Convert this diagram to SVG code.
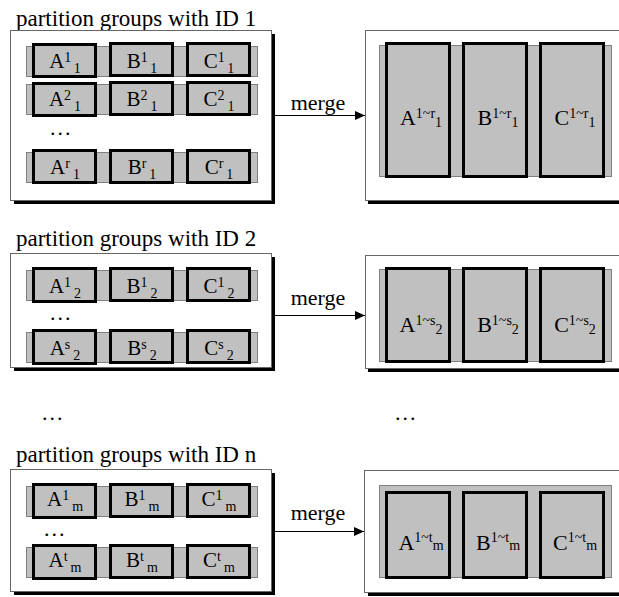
<svg xmlns="http://www.w3.org/2000/svg" width="619" height="597" viewBox="0 0 619 597" font-family="'Liberation Serif', 'Times New Roman', serif">
<defs>
<style>
text{font-family:'Liberation Serif','Times New Roman',serif;fill:#000}
.title{font-size:23px}
.merge{font-size:22px;text-anchor:middle}
.dots{font-size:22px;letter-spacing:2px}
.lbl{font-size:21px;text-anchor:middle}
.rl{font-size:22px;text-anchor:middle}
.s{font-size:14px}
.box{fill:#fff;stroke:#666;stroke-width:1}
.shadow{fill:#000}
.bar{fill:#c0c0c0;stroke:#808080;stroke-width:1}
.cell{fill:#c0c0c0;stroke:#000;stroke-width:3}
.conn{stroke:#000;stroke-width:1;fill:none}
</style>
<marker id="arr" markerWidth="10" markerHeight="10" refX="10" refY="5" orient="auto" markerUnits="userSpaceOnUse">
<path d="M0,0.5 L10,5 L0,9.5 Z" fill="#000"/>
</marker>
</defs>

<!-- Group 1 -->
<g id="title1"><text class="title" x="16" y="26">partition groups with ID 1</text></g>
<g id="left1">
<rect class="shadow" x="14" y="34" width="261" height="170"/>
<rect class="box" x="10.5" y="30.5" width="261" height="170"/>
<rect class="bar" x="26.5" y="46.5" width="231" height="30"/>
<rect class="cell" x="33.5" y="44.5" width="62" height="32"/>
<rect class="cell" x="110.5" y="43.5" width="62" height="32"/>
<rect class="cell" x="187.5" y="43.5" width="62" height="32"/>
<text class="lbl" x="65" y="68">A<tspan class="s" dy="-6">1</tspan><tspan class="s" dx="3" dy="11">1</tspan></text>
<text class="lbl" x="142" y="68">B<tspan class="s" dy="-6">1</tspan><tspan class="s" dx="3" dy="11">1</tspan></text>
<text class="lbl" x="219" y="68">C<tspan class="s" dy="-6">1</tspan><tspan class="s" dx="3" dy="11">1</tspan></text>
<rect class="bar" x="26.5" y="84.5" width="231" height="30"/>
<rect class="cell" x="33.5" y="83.5" width="62" height="32"/>
<rect class="cell" x="110.5" y="82.5" width="62" height="32"/>
<rect class="cell" x="187.5" y="82.5" width="62" height="32"/>
<text class="lbl" x="65" y="106">A<tspan class="s" dy="-6">2</tspan><tspan class="s" dx="3" dy="11">1</tspan></text>
<text class="lbl" x="142" y="106">B<tspan class="s" dy="-6">2</tspan><tspan class="s" dx="3" dy="11">1</tspan></text>
<text class="lbl" x="219" y="106">C<tspan class="s" dy="-6">2</tspan><tspan class="s" dx="3" dy="11">1</tspan></text>
<text class="dots" x="50" y="135">...</text>
<rect class="bar" x="26.5" y="152.5" width="231" height="30"/>
<rect class="cell" x="33.5" y="150.5" width="62" height="32"/>
<rect class="cell" x="110.5" y="150.5" width="62" height="32"/>
<rect class="cell" x="187.5" y="150.5" width="62" height="32"/>
<text class="lbl" x="65" y="174">A<tspan class="s" dy="-6">r</tspan><tspan class="s" dx="3" dy="11">1</tspan></text>
<text class="lbl" x="142" y="174">B<tspan class="s" dy="-6">r</tspan><tspan class="s" dx="3" dy="11">1</tspan></text>
<text class="lbl" x="219" y="174">C<tspan class="s" dy="-6">r</tspan><tspan class="s" dx="3" dy="11">1</tspan></text>
</g>
<g id="right1">
<rect class="shadow" x="368" y="34" width="270" height="170"/>
<rect class="box" x="365.5" y="30.5" width="270" height="170"/>
<rect class="bar" x="379.5" y="45.5" width="232" height="131"/>
<rect class="cell" x="386.5" y="43.5" width="63" height="133"/>
<rect class="cell" x="463.5" y="43.5" width="63" height="133"/>
<rect class="cell" x="540.5" y="43.5" width="63" height="133"/>
<text class="rl" x="421" y="125">A<tspan class="s" dy="-7">1~r</tspan><tspan class="s" dy="9">1</tspan></text>
<text class="rl" x="498" y="125">B<tspan class="s" dy="-7">1~r</tspan><tspan class="s" dy="9">1</tspan></text>
<text class="rl" x="575" y="125">C<tspan class="s" dy="-7">1~r</tspan><tspan class="s" dy="9">1</tspan></text>
</g>

<!-- Group 2 -->
<g id="title2"><text class="title" x="16" y="246">partition groups with ID 2</text></g>
<g id="left2">
<rect class="shadow" x="14" y="257" width="261" height="114"/>
<rect class="box" x="10.5" y="253.5" width="261" height="114"/>
<rect class="bar" x="26.5" y="270.5" width="231" height="30"/>
<rect class="cell" x="33.5" y="268.5" width="62" height="33"/>
<rect class="cell" x="110.5" y="268.5" width="62" height="32"/>
<rect class="cell" x="187.5" y="268.5" width="62" height="32"/>
<text class="lbl" x="65" y="293">A<tspan class="s" dy="-6">1</tspan><tspan class="s" dx="3" dy="11">2</tspan></text>
<text class="lbl" x="142" y="293">B<tspan class="s" dy="-6">1</tspan><tspan class="s" dx="3" dy="11">2</tspan></text>
<text class="lbl" x="219" y="293">C<tspan class="s" dy="-6">1</tspan><tspan class="s" dx="3" dy="11">2</tspan></text>
<text class="dots" x="50" y="320">...</text>
<rect class="bar" x="26.5" y="332.5" width="231" height="30"/>
<rect class="cell" x="33.5" y="330.5" width="62" height="33"/>
<rect class="cell" x="110.5" y="330.5" width="62" height="32"/>
<rect class="cell" x="187.5" y="330.5" width="62" height="32"/>
<text class="lbl" x="65" y="355">A<tspan class="s" dy="-6">s</tspan><tspan class="s" dx="3" dy="11">2</tspan></text>
<text class="lbl" x="142" y="355">B<tspan class="s" dy="-6">s</tspan><tspan class="s" dx="3" dy="11">2</tspan></text>
<text class="lbl" x="219" y="355">C<tspan class="s" dy="-6">s</tspan><tspan class="s" dx="3" dy="11">2</tspan></text>
</g>
<g id="right2">
<rect class="shadow" x="368" y="259" width="270" height="113"/>
<rect class="box" x="365.5" y="255.5" width="270" height="113"/>
<rect class="bar" x="379.5" y="269.5" width="232" height="92"/>
<rect class="cell" x="386.5" y="268.5" width="63" height="93"/>
<rect class="cell" x="463.5" y="268.5" width="63" height="93"/>
<rect class="cell" x="540.5" y="268.5" width="63" height="93"/>
<text class="rl" x="421" y="332">A<tspan class="s" dy="-7">1~s</tspan><tspan class="s" dy="9">2</tspan></text>
<text class="rl" x="498" y="332">B<tspan class="s" dy="-7">1~s</tspan><tspan class="s" dy="9">2</tspan></text>
<text class="rl" x="575" y="332">C<tspan class="s" dy="-7">1~s</tspan><tspan class="s" dy="9">2</tspan></text>
</g>

<!-- middle ellipses -->
<g id="ellipsis">
<text class="dots" x="42" y="420">...</text>
<text class="dots" x="395" y="420">...</text>
</g>

<!-- Group n -->
<g id="title3"><text class="title" x="16" y="462">partition groups with ID n</text></g>
<g id="left3">
<rect class="shadow" x="14" y="473" width="261" height="122"/>
<rect class="box" x="10.5" y="469.5" width="261" height="122"/>
<rect class="bar" x="26.5" y="486.5" width="231" height="30"/>
<rect class="cell" x="33.5" y="484.5" width="62" height="33"/>
<rect class="cell" x="110.5" y="484.5" width="62" height="32"/>
<rect class="cell" x="187.5" y="484.5" width="62" height="32"/>
<text class="lbl" x="65" y="506">A<tspan class="s" dy="-6">1</tspan><tspan class="s" dx="3" dy="11">m</tspan></text>
<text class="lbl" x="142" y="506">B<tspan class="s" dy="-6">1</tspan><tspan class="s" dx="3" dy="11">m</tspan></text>
<text class="lbl" x="219" y="506">C<tspan class="s" dy="-6">1</tspan><tspan class="s" dx="3" dy="11">m</tspan></text>
<text class="dots" x="44" y="536">...</text>
<rect class="bar" x="26.5" y="547.5" width="231" height="30"/>
<rect class="cell" x="33.5" y="545.5" width="62" height="33"/>
<rect class="cell" x="110.5" y="545.5" width="62" height="32"/>
<rect class="cell" x="187.5" y="545.5" width="62" height="32"/>
<text class="lbl" x="65" y="567">A<tspan class="s" dy="-6">t</tspan><tspan class="s" dx="3" dy="11">m</tspan></text>
<text class="lbl" x="142" y="567">B<tspan class="s" dy="-6">t</tspan><tspan class="s" dx="3" dy="11">m</tspan></text>
<text class="lbl" x="219" y="567">C<tspan class="s" dy="-6">t</tspan><tspan class="s" dx="3" dy="11">m</tspan></text>
</g>
<g id="right3">
<rect class="shadow" x="368" y="474" width="270" height="122"/>
<rect class="box" x="364.5" y="470.5" width="270" height="122"/>
<rect class="bar" x="379.5" y="485.5" width="232" height="92"/>
<rect class="cell" x="386.5" y="492.5" width="63" height="85"/>
<rect class="cell" x="463.5" y="492.5" width="63" height="85"/>
<rect class="cell" x="540.5" y="492.5" width="63" height="85"/>
<text class="rl" x="421" y="550">A<tspan class="s" dy="-8">1~t</tspan><tspan class="s" dy="8">m</tspan></text>
<text class="rl" x="498" y="550">B<tspan class="s" dy="-8">1~t</tspan><tspan class="s" dy="8">m</tspan></text>
<text class="rl" x="575" y="550">C<tspan class="s" dy="-8">1~t</tspan><tspan class="s" dy="8">m</tspan></text>
</g>

<!-- connectors -->
<g id="connectors">
<line class="conn" x1="275" y1="115.5" x2="365" y2="115.5" marker-end="url(#arr)"/>
<text class="merge" x="318" y="110">merge</text>
<line class="conn" x1="275" y1="315.5" x2="365" y2="315.5" marker-end="url(#arr)"/>
<text class="merge" x="318" y="305">merge</text>
<line class="conn" x1="275" y1="531.5" x2="364" y2="531.5" marker-end="url(#arr)"/>
<text class="merge" x="318" y="520">merge</text>
</g>
</svg>
